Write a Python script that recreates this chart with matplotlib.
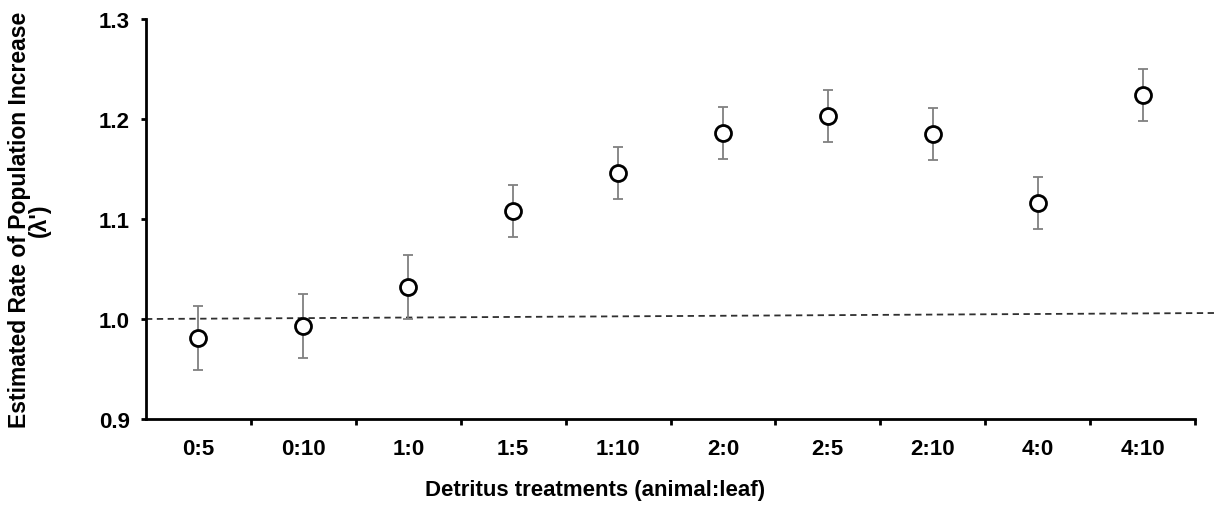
import matplotlib
matplotlib.use("Agg")
import matplotlib.pyplot as plt
import numpy as np

categories = ["0:5", "0:10", "1:0", "1:5", "1:10", "2:0", "2:5", "2:10", "4:0", "4:10"]
lam = [0.981, 0.993, 1.032, 1.108, 1.146, 1.186, 1.203, 1.185, 1.116, 1.224]
err = [0.032, 0.032, 0.032, 0.026, 0.026, 0.026, 0.026, 0.026, 0.026, 0.026]
ref_y = [1.0, 1.006]

plt.rcParams['font.family'] = ['Liberation Sans', 'DejaVu Sans']

fig = plt.figure(figsize=(12.15, 5.1), dpi=100)
ax = fig.add_axes([146/1215, 90/510, (1195-146)/1215, 400/510])

x = np.arange(len(categories))
ax.errorbar(x, lam, yerr=err, fmt='none', ecolor='#808080', elinewidth=1.3,
            capsize=3.5, capthick=1.3, zorder=2)
ax.plot(x, lam, 'o', ms=11.5, mfc='white', mec='black', mew=2, zorder=3, clip_on=False)

# reference line extending to figure edge
ax.plot([-0.5, 9.69], ref_y, ls=(0, (3.5, 2.5)), color='#303030', lw=1.3, clip_on=False, zorder=1)

ax.set_xlim(-0.5, 9.5)
ax.set_ylim(0.9, 1.3)
ax.set_yticks([0.9, 1.0, 1.1, 1.2, 1.3])
ax.set_yticklabels(["0.9", "1.0", "1.1", "1.2", "1.3"], fontweight='bold', fontsize=16)
ax.set_xticks(x)
ax.set_xticklabels(categories, fontweight='bold', fontsize=16)
ax.tick_params(axis='x', length=0, pad=14)
ax.set_xticks(np.arange(0.5, 10, 1.0), minor=True)
ax.tick_params(axis='x', which='minor', length=4.5, width=2, direction='out')
ax.tick_params(axis='y', length=3.5, width=2, direction='out', pad=8)

for s in ['top', 'right']:
    ax.spines[s].set_visible(False)
for s in ['left', 'bottom']:
    ax.spines[s].set_linewidth(2)

ax.set_xlabel("Detritus treatments (animal:leaf)", fontweight='bold', fontsize=16)
ax.xaxis.set_label_coords((595 - 146) / 1049, -60 / 400)
ax.set_ylabel("Estimated Rate of Population Increase\n(λ')", fontweight='bold', fontsize=16.5,
              linespacing=0.85)
ax.yaxis.set_label_coords(-(146 - 51) / 1049, 0.5)

fig.savefig("out.png", dpi=100)
